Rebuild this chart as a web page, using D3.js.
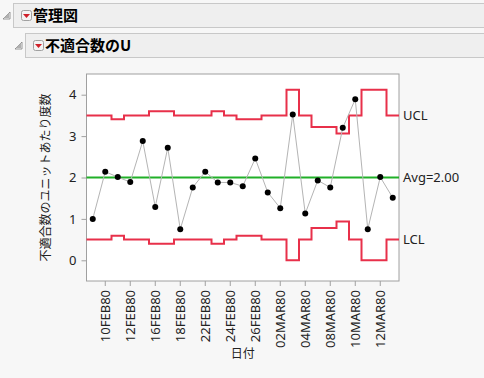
<!DOCTYPE html>
<html>
<head>
<meta charset="utf-8">
<script src="https://cdn.jsdelivr.net/npm/d3@7"></script>
<style>
  body { margin: 0; background: #f7f7f7; }
  svg { display: block; }
</style>
</head>
<body>
<svg id="chart" width="484" height="378"></svg>
<script>
// dates for each subgroup (only every second one is labelled on the axis)
var dates = ["09FEB80","10FEB80","11FEB80","12FEB80","15FEB80","16FEB80","17FEB80","18FEB80","19FEB80",
             "22FEB80","23FEB80","24FEB80","25FEB80","26FEB80","01MAR80","02MAR80","03MAR80","04MAR80",
             "05MAR80","08MAR80","09MAR80","10MAR80","11MAR80","12MAR80","15MAR80"];
// defects per unit
var uValues = [1.00, 2.14, 2.01, 1.89, 2.88, 1.29, 2.72, 0.75, 1.76, 2.14, 1.88, 1.88, 1.79,
               2.46, 1.64, 1.26, 3.52, 1.13, 1.93, 1.76, 3.20, 3.89, 0.75, 2.01, 1.51];
var uclValues = [3.50, 3.50, 3.41, 3.50, 3.50, 3.60, 3.60, 3.50, 3.50, 3.50, 3.60, 3.50, 3.41,
                 3.41, 3.50, 3.50, 4.12, 3.50, 3.22, 3.22, 3.06, 3.50, 4.12, 4.12, 3.50];
var lclValues = [0.50, 0.50, 0.59, 0.50, 0.50, 0.40, 0.40, 0.50, 0.50, 0.50, 0.40, 0.50, 0.59,
                 0.59, 0.50, 0.50, 0.00, 0.50, 0.78, 0.78, 0.94, 0.50, 0.00, 0.00, 0.50];
var avg = 2.00;
var yTicks = [0, 1, 2, 3, 4];
var labelDates = ["10FEB80","12FEB80","16FEB80","18FEB80","22FEB80","24FEB80",
                  "26FEB80","02MAR80","04MAR80","08MAR80","10MAR80","12MAR80"];

var svg = d3.select("#chart");
var cjk = "'Noto Sans CJK JP', 'Noto Sans', sans-serif";
var latin = "'Noto Sans', 'DejaVu Sans', sans-serif";

// outline headers
function header(x, y, label) {
  var g = svg.append("g");
  g.append("rect").attr("x", x + 0.5).attr("y", y + 0.5).attr("width", 484 - x).attr("height", 24)
    .attr("fill", "#efefef").attr("stroke", "#c8c8c8");
  // disclosure triangle
  g.append("path").attr("d", "M" + (x - 10) + "," + (y + 16) + "l7,0l0,-7z")
    .attr("fill", "none").attr("stroke", "#808080").attr("stroke-width", 0.8);
  g.append("path").attr("d", "M" + (x - 9) + "," + (y + 15) + "l5,0l0,-5z").attr("fill", "#b0b0b0");
  // red popup button
  g.append("rect").attr("x", x + 8.5).attr("y", y + 7.5).attr("width", 10).attr("height", 10).attr("rx", 2)
    .attr("fill", "#f4f4f4").attr("stroke", "#a0a0a0");
  g.append("path").attr("d", "M" + (x + 10) + "," + (y + 11) + "l7,0l-3.5,4z").attr("fill", "#d0202a");
  g.append("text").attr("x", x + 20).attr("y", y + 18).text(label)
    .style("font-family", cjk).style("font-weight", "bold").style("font-size", "15px").attr("fill", "#000");
}
header(13, 3, "管理図");
header(25, 33, "不適合数のU");

var margin = {left: 86.5, top: 74, right: 399, bottom: 281};

var x = d3.scaleBand().domain(d3.range(dates.length)).range([margin.left, margin.right]);
var y = d3.scaleLinear().domain([-0.5, 4.5]).range([margin.bottom, margin.top]);

// plot background
svg.append("rect").attr("x", margin.left).attr("y", margin.top)
  .attr("width", margin.right - margin.left).attr("height", margin.bottom - margin.top)
  .attr("fill", "#fff");

// y axis
var yAxis = svg.append("g").attr("transform", "translate(" + margin.left + ",0)")
  .call(d3.axisLeft(y).tickValues(yTicks).tickSize(5).tickPadding(5).tickFormat(d3.format("d")));
yAxis.select(".domain").remove();
yAxis.selectAll("line").attr("stroke", "#a0a0a0");
yAxis.selectAll("text").style("font-family", latin).style("font-size", "13px").attr("fill", "#222");

// x axis
var xAxis = svg.append("g").attr("transform", "translate(0," + margin.bottom + ")")
  .call(d3.axisBottom(x).tickValues(d3.range(1, dates.length, 2)).tickSize(5).tickFormat(function(i){ return dates[i]; }));
xAxis.select(".domain").remove();
xAxis.selectAll("line").attr("stroke", "#a0a0a0");
xAxis.selectAll("text")
  .attr("transform", "rotate(-90)")
  .attr("x", -9).attr("y", 0).attr("dy", "0.35em")
  .style("text-anchor", "end")
  .style("font-family", latin).style("font-size", "13px").attr("fill", "#222");

// frame
svg.append("rect").attr("x", margin.left).attr("y", margin.top)
  .attr("width", margin.right - margin.left).attr("height", margin.bottom - margin.top)
  .attr("fill", "none").attr("stroke", "#a0a0a0");

// axis titles
svg.append("text").attr("transform", "translate(50," + ((margin.top + margin.bottom) / 2) + ") rotate(-90)")
  .attr("text-anchor", "middle").text("不適合数のユニットあたり度数")
  .style("font-family", cjk).style("font-size", "12px").attr("fill", "#222");
svg.append("text").attr("x", (margin.left + margin.right) / 2).attr("y", 358)
  .attr("text-anchor", "middle").text("日付")
  .style("font-family", cjk).style("font-size", "12px").attr("fill", "#222");

// step limit lines
function stepLine(vals) {
  var pts = vals.map(function(v, i){ return [x(i), y(v)]; });
  pts.push([margin.right, y(vals[vals.length - 1])]);
  return d3.line().curve(d3.curveStepAfter)(pts);
}
svg.append("path").attr("d", stepLine(uclValues)).attr("fill", "none").attr("stroke", "#e8304a").attr("stroke-width", 2);
svg.append("path").attr("d", stepLine(lclValues)).attr("fill", "none").attr("stroke", "#e8304a").attr("stroke-width", 2);

// center line
svg.append("line").attr("x1", margin.left).attr("x2", margin.right).attr("y1", y(avg)).attr("y2", y(avg))
  .attr("stroke", "#21b028").attr("stroke-width", 2);

// data line and points
var cx = function(d, i){ return x(i) + x.bandwidth() / 2; };
svg.append("path").datum(uValues)
  .attr("d", d3.line().x(cx).y(function(d){ return y(d); }))
  .attr("fill", "none").attr("stroke", "#b4b4b4").attr("stroke-width", 1);
svg.selectAll(".pt").data(uValues).enter().append("circle")
  .attr("cx", cx).attr("cy", function(d){ return y(d); }).attr("r", 3).attr("fill", "#000");

// right labels
var rightLabels = [["UCL", uclValues[uclValues.length - 1]], ["Avg=2.00", avg], ["LCL", lclValues[lclValues.length - 1]]];
svg.selectAll(".rl").data(rightLabels).enter().append("text")
  .attr("x", margin.right + 4).attr("y", function(d){ return y(d[1]); }).attr("dy", "0.35em")
  .text(function(d){ return d[0]; })
  .style("font-family", latin).style("font-size", "13px").attr("fill", "#222");
</script>
</body>
</html>
